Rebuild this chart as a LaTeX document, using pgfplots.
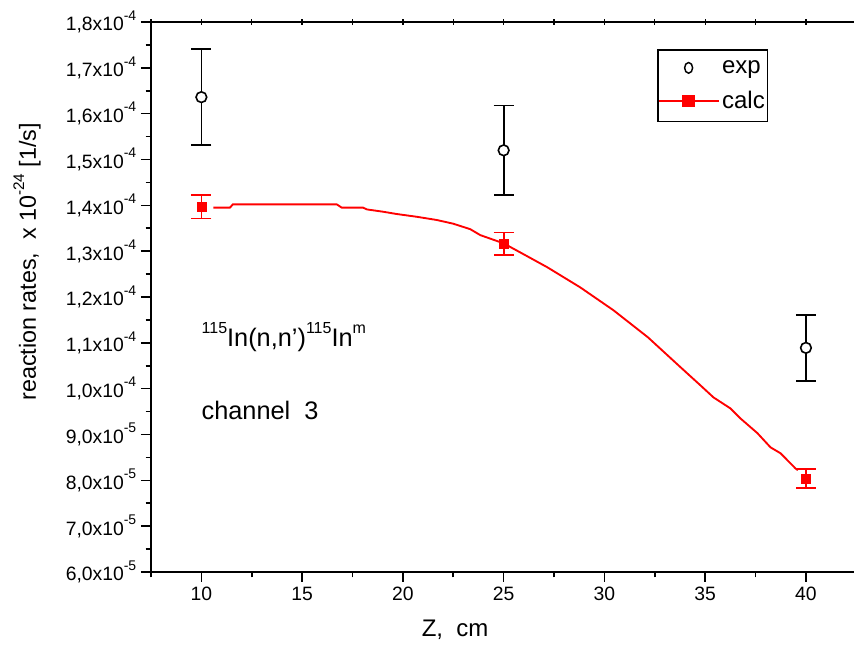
\documentclass[border=0pt]{standalone}
\usepackage{pgfplots}
\pgfplotsset{compat=1.18}
\usepackage{fontspec}
\setmainfont{Liberation Sans}
\newcommand{\tks}[1]{\raisebox{0.55em}{\fontsize{10.5}{11}\selectfont #1}}
\newcommand{\lbs}[1]{\raisebox{0.5em}{\fontsize{11.5}{12}\selectfont #1}}
\newcommand{\ans}[1]{\raisebox{0.52em}{\fontsize{12}{13}\selectfont #1}}
\begin{document}
\begin{tikzpicture}
\useasboundingbox (0,0) rectangle (640.5pt,483.75pt);
\begin{axis}[
  at={(113.25pt,54.75pt)}, anchor=south west,
  scale only axis, width=530.5pt, height=412.5pt,
  xmin=7.5, xmax=42.6, ymin=6, ymax=18,
  axis line style={line width=1.4pt},
  tick style={line width=1.2pt, black},
  tick align=outside,
  major tick length=7.5pt, minor tick length=4pt,
  xtick pos=left, ytick pos=left,
  xtick={10,15,20,25,30,35,40},
  minor xtick={7.5,12.5,17.5,22.5,27.5,32.5,37.5,42.5},
  extra x ticks={7.5,10,12.5,15,17.5,20,22.5,25,27.5,30,32.5,35,37.5,40,42.5},
  extra x tick labels={},
  extra x tick style={xtick pos=right, tick align=center, major tick length=4pt, tick style={line width=1pt}},
  ytick={6,7,...,18},
  minor ytick={6.5,7.5,...,17.5},
  yticklabels={{6,0x10\tks{-5}},{7,0x10\tks{-5}},{8,0x10\tks{-5}},{9,0x10\tks{-5}},{1,0x10\tks{-4}},{1,1x10\tks{-4}},{1,2x10\tks{-4}},{1,3x10\tks{-4}},{1,4x10\tks{-4}},{1,5x10\tks{-4}},{1,6x10\tks{-4}},{1,7x10\tks{-4}},{1,8x10\tks{-4}}},
  /pgf/number format/assume math mode=true,
  ticklabel style={font=\fontsize{14.5}{16}\selectfont},
  xlabel={Z,\ \ cm},
  ylabel={reaction rates,\ \ x 10\lbs{-24} [1/s]},
  xlabel style={font=\fontsize{18}{20}\selectfont, at={(axis description cs:0.43,-0.1055)}, anchor=center},
  ylabel style={font=\fontsize{17.5}{19}\selectfont, at={(axis description cs:-0.1753,0.564)}, anchor=center},
  legend style={at={(rel axis cs:0.7154,0.951)}, anchor=north west,
    draw=black, line width=1.2pt, font=\fontsize{18}{21}\selectfont,
    inner xsep=0pt, inner ysep=6pt, row sep=8pt, nodes={inner xsep=2pt}},
  legend cell align=left,
  clip=false,
]
% calc curve
\addplot[red, line width=1.4pt, forget plot] coordinates {
(10.59,13.95) (11.42,13.95) (11.56,14.02) (16.72,14.02) (16.96,13.95)
(18.02,13.95) (18.22,13.91) (19.02,13.86) (19.70,13.81) (20.69,13.75)
(21.68,13.68) (22.49,13.60) (23.34,13.48) (23.84,13.35) (25.00,13.17)
(26.00,12.93) (27.16,12.65) (28.80,12.21) (30.45,11.71) (32.16,11.12)
(33.77,10.47) (34.77,10.07) (35.41,9.81) (36.25,9.57) (36.75,9.35)
(37.59,9.03) (38.24,8.72) (38.74,8.59) (39.48,8.26) (39.60,8.22)
};
% calc points
\addplot[only marks, red, mark=square*, mark size=3.4pt, forget plot,
  error bars/.cd, y dir=both, y explicit,
  error bar style={line width=1.3pt, red},
  error mark options={rotate=90, mark size=7.5pt, line width=1.3pt, red}]
  coordinates {
  (10,13.97) +- (0,0.26)
  (25,13.16) +- (0,0.245)
  (40,8.04) +- (0,0.2)
};
% exp points
\addplot[only marks, black, mark=*, mark size=4pt, mark options={fill=white, line width=1.2pt}, forget plot,
  error bars/.cd, y dir=both, y explicit,
  error bar style={line width=1.3pt, black},
  error mark options={rotate=90, mark size=7.5pt, line width=1.3pt, black}]
  coordinates {
  (10,16.36) +- (0,1.05)
  (25,15.20) +- (0,0.98)
  (40,10.89) +- (0,0.72)
};
\addlegendimage{legend image code/.code={\draw[black, line width=1.1pt, fill=white] (22.5pt,0pt) ellipse (3pt and 4pt);}}
\addlegendentry{exp}
\addlegendimage{legend image code/.code={\draw[red, line width=1.2pt] (0pt,0pt) -- (45pt,0pt); \fill[red] (18.5pt,-4pt) rectangle (26.5pt,4pt);}}
\addlegendentry{calc}
\node[anchor=base west, font=\fontsize{19}{22}\selectfont] at (axis cs:9.78,10.91)
  {\ans{115}In(n,n')\ans{115}In\ans{m}};
\node[anchor=base west, font=\fontsize{19}{22}\selectfont] at (axis cs:9.78,9.33)
  {channel\ \ 3};
\end{axis}
\end{tikzpicture}
\end{document}
